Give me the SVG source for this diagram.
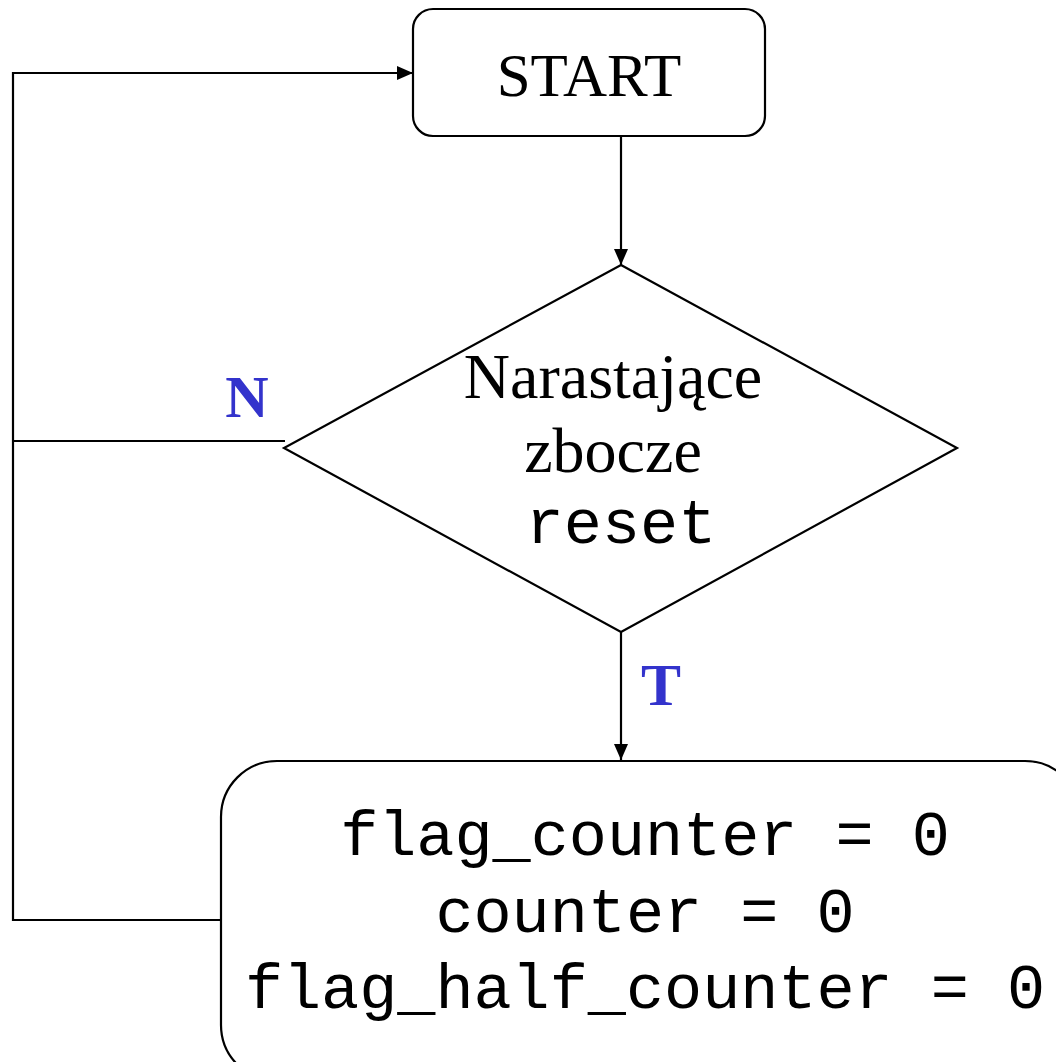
<svg xmlns="http://www.w3.org/2000/svg" width="1056" height="1062" viewBox="0 0 1056 1062">
  <style>
    .shape { fill: #ffffff; stroke: #000000; stroke-width: 2.2; }
    .wire { fill: none; stroke: #000000; stroke-width: 2.2; }
    .serif { font-family: "Liberation Serif", "Times New Roman", serif; font-size: 64px; fill: #000000; }
    .title { font-family: "Liberation Serif", "Times New Roman", serif; font-size: 61px; fill: #000000; }
    .mono { font-family: "Liberation Mono", "Courier New", monospace; font-size: 63.5px; fill: #000000; }
    .label { font-family: "Liberation Serif", "Times New Roman", serif; font-size: 60px; font-weight: bold; fill: #3333cc; }
  </style>
  <defs>
    <marker id="arrowLg" viewBox="0 0 16 14" refX="16" refY="7" markerWidth="16" markerHeight="14" markerUnits="userSpaceOnUse" orient="auto">
      <path d="M0,0 L16,7 L0,14 Z" fill="#000000"/>
    </marker>
  </defs>

  <g id="connectors">
    <!-- START -> decision -->
    <line class="wire" x1="621" y1="137" x2="621" y2="265" marker-end="url(#arrowLg)"/>
    <!-- decision (T) -> reset block -->
    <line class="wire" x1="621" y1="632" x2="621" y2="760" marker-end="url(#arrowLg)"/>
    <!-- decision (N) back to the loop line -->
    <line class="wire" x1="285" y1="441" x2="13" y2="441"/>
    <!-- reset block back to START -->
    <polyline class="wire" points="221,920 13,920 13,73 413,73" marker-end="url(#arrowLg)"/>
  </g>

  <g id="start">
    <rect class="shape" x="413" y="9" width="352" height="127" rx="20" ry="20"/>
    <text class="title" x="589" y="96" text-anchor="middle">START</text>
  </g>

  <g id="decision">
    <polygon class="shape" points="621,265 957,448 621,632 284,448"/>
    <text class="serif" x="613" y="398" text-anchor="middle">Narastające</text>
    <text class="serif" x="613" y="472" text-anchor="middle">zbocze</text>
    <text class="mono" x="621" y="543" text-anchor="middle">reset</text>
  </g>

  <g id="reset-block">
    <rect class="shape" x="221" y="761" width="860" height="320" rx="56" ry="56"/>
    <text class="mono" x="645" y="855" text-anchor="middle">flag_counter = 0</text>
    <text class="mono" x="645" y="932" text-anchor="middle">counter = 0</text>
    <text class="mono" x="645" y="1008" text-anchor="middle">flag_half_counter = 0</text>
  </g>

  <g id="labels">
    <text class="label" x="247" y="417" text-anchor="middle">N</text>
    <text class="label" x="661" y="705" text-anchor="middle">T</text>
  </g>
</svg>
